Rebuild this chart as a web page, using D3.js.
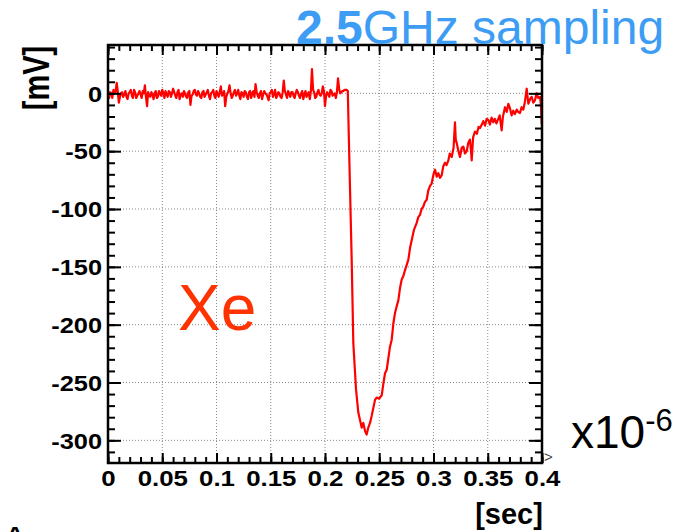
<!DOCTYPE html>
<html>
<head>
<meta charset="utf-8">
<script src="https://cdn.jsdelivr.net/npm/d3@7"></script>
<style>
  body { margin: 0; background: #fff; }
  svg { display: block; font-family: "Liberation Sans", Arial, sans-serif; }
</style>
</head>
<body>
<div id="chart"></div>
<script>
// waveform (time in us, amplitude in mV)
const sampleStep = 0.001;
const baselineMv = [
  -2, -4, 1, 0, -4, 3, 2, 1, 9, 2, -8, -3, 0, 1, -3, -1, 2, -3, -5, 0,
  1, 3, -2, -4, 3, 1, -4, -2, 0, 2, -1, -4, 2, 0, 7, -3, -11, 1, -2, -3,
  1, -1, -5, 0, 2, -4, -3, 2, 0, -2, 3, 0, -4, 2, -1, -3, 2, 1, -3, 0,
  4, 1, -2, -4, 1, 3, -5, -1, 0, -3, 2, 0, -3, -4, 1, 2, -10, -2, -1, 2,
  3, -1, -2, 2, 0, -3, -4, 1, 2, -3, -1, 1, 3, -2, -5, 0, 1, 3, -2, -4,
  2, 0, -3, 1, 6, -2, -1, 2, -11, -3, 0, 2, 7, 0, -4, -2, 1, 3, -2, 0,
  3, -2, -5, 1, 0, -3, 2, 1, -3, -5, 1, 2, -4, 0, 2, -3, 8, 1, -2, -4,
  0, 2, -5, -1, 2, 0, -1, -3, -6, 0, 1, 3, -3, -1, 3, -4, -2, 1, 0, -3,
  -4, 1, 11, 2, -1, -4, 2, 0, -3, 1, 1, -2, -4, 0, 3, 1, -2, -4, 0, 2,
  -5, -1, 2, -3, -1, 1, -5, 2, 21, 3, 1, -4, -3, 1, 3, -1, -2, 0, 6, 2,
  -11, -2, 1, -1, -3, 3, 2, -2, -1, 0, -4, 1, 13, 4, 0, 1, 2, 2, 3, 3,
  3
];
const pulseTimes = [
  0.221, 0.2225, 0.2246, 0.2261, 0.2286, 0.2307, 0.2338, 0.2353, 0.2369, 0.2384,
  0.2399, 0.2415, 0.2430, 0.2461, 0.2476, 0.2500, 0.2523, 0.2535, 0.2553, 0.2569,
  0.2599, 0.2615, 0.2630, 0.2645, 0.2661, 0.2676, 0.2692, 0.2707, 0.2722, 0.2737,
  0.2768, 0.2785, 0.2799, 0.2820, 0.2845, 0.2860, 0.2876, 0.2890, 0.2906, 0.2920,
  0.2937, 0.2952, 0.2968, 0.2983, 0.3000, 0.3014, 0.3030, 0.3044, 0.3060, 0.3075,
  0.3090, 0.3106, 0.3120, 0.3137, 0.3150, 0.3168, 0.3185, 0.3198, 0.3205, 0.3214,
  0.3230, 0.3244, 0.3260, 0.3275, 0.3290, 0.3306, 0.3320, 0.3336, 0.3345, 0.3352,
  0.3365, 0.3382, 0.3400, 0.3415, 0.3429, 0.3445, 0.3459, 0.3475, 0.3490, 0.3505,
  0.3520, 0.3535, 0.3551, 0.3565, 0.3580, 0.3597, 0.3610, 0.3628, 0.3640, 0.3659,
  0.3675, 0.3690, 0.3705, 0.3720, 0.3735, 0.3750, 0.3767, 0.3780, 0.3797, 0.3812,
  0.3828, 0.3843, 0.3859, 0.3874, 0.3890, 0.3905, 0.3920, 0.3935, 0.3951, 0.3965,
  0.3982, 0.3990, 0.3997, 0.4000
];
const pulseMv = [
  2, -60, -144, -216, -256, -276, -289, -285, -292, -295,
  -289, -285, -279, -265, -263, -264, -261, -253, -242, -239,
  -219, -213, -199, -190, -184, -179, -168, -161, -158, -153,
  -144, -133, -127, -118, -112, -107, -105, -100, -98, -94,
  -92, -84, -80, -78, -70, -66, -72, -69, -73, -71,
  -63, -60, -62, -58, -52, -55, -47, -25, -40, -43,
  -50, -55, -47, -46, -52, -50, -43, -40, -49, -58,
  -38, -33, -35, -29, -30, -27, -24, -28, -22, -23,
  -27, -21, -25, -22, -26, -22, -19, -32, -20, -12,
  -16, -9, -13, -19, -15, -18, -14, -16, -17, -12,
  -14, -7, 4, -9, -5, -3, -8, -6, 0, -4,
  -3, -10, -26, -18
];
const xMajor = [0, 0.05, 0.1, 0.15, 0.2, 0.25, 0.3, 0.35, 0.4];
const xLabels = ["0", "0.05", "0.1", "0.15", "0.2", "0.25", "0.3", "0.35", "0.4"];
const yMajor = [0, -50, -100, -150, -200, -250, -300];
const yMinorStep = 10, xMinorStep = 0.01;

const W = 690, H = 532;
const frame = {left: 108, right: 542, top: 45, bottom: 463};

const svg = d3.select("#chart").append("svg")
  .attr("width", W).attr("height", H);

const x = d3.scaleLinear().domain([0, 0.4]).range([frame.left, frame.right]);
const y = d3.scaleLinear().domain([-319.6, 41.8]).range([frame.bottom, frame.top]);

const xMinor = d3.range(0, 0.4001, xMinorStep);
const yMinor = d3.range(-310, 41, yMinorStep);

// grid
const grid = svg.append("g")
  .attr("stroke", "#8a8a8a").attr("stroke-width", 1).attr("stroke-dasharray", "1,2");
grid.selectAll(".gx").data(xMajor.slice(1, -1)).enter().append("line")
  .attr("x1", d => x(d)).attr("x2", d => x(d))
  .attr("y1", frame.top).attr("y2", frame.bottom);
grid.selectAll(".gy").data(yMajor).enter().append("line")
  .attr("x1", frame.left).attr("x2", frame.right)
  .attr("y1", d => y(d)).attr("y2", d => y(d));

// signal
const data = baselineMv.map((v, i) => ({t: i * sampleStep, v: v}))
  .concat(pulseTimes.map((t, i) => ({t: t, v: pulseMv[i]})));

svg.append("clipPath").attr("id", "clip").append("rect")
  .attr("x", frame.left).attr("y", frame.top)
  .attr("width", frame.right - frame.left).attr("height", frame.bottom - frame.top);

const line = d3.line().x(d => x(d.t)).y(d => y(d.v));
svg.append("path").datum(data)
  .attr("clip-path", "url(#clip)")
  .attr("fill", "none").attr("stroke", "#ff0000").attr("stroke-width", 2.2)
  .attr("stroke-linejoin", "round")
  .attr("d", line);

// axes (ticks point inward like ROOT)
function drawAxis(axis, tx, ty) {
  const g = svg.append("g").attr("transform", `translate(${tx},${ty})`).call(axis);
  g.select(".domain").remove();
  g.selectAll("line").attr("stroke", "#000").attr("stroke-width", 2);
  return g;
}
drawAxis(d3.axisBottom(x).tickValues(xMinor).tickSize(-6).tickFormat(""), 0, frame.bottom);
drawAxis(d3.axisTop(x).tickValues(xMinor).tickSize(-6).tickFormat(""), 0, frame.top);
drawAxis(d3.axisTop(x).tickValues(xMajor).tickSize(-10).tickFormat(""), 0, frame.top);
drawAxis(d3.axisLeft(y).tickValues(yMinor).tickSize(-7).tickFormat(""), frame.left, 0);
drawAxis(d3.axisRight(y).tickValues(yMinor).tickSize(-7).tickFormat(""), frame.right, 0);
drawAxis(d3.axisRight(y).tickValues(yMajor).tickSize(-13).tickFormat(""), frame.right, 0);

const xAxis = drawAxis(d3.axisBottom(x).tickValues(xMajor).tickSize(-10)
  .tickFormat((d, i) => xLabels[i]), 0, frame.bottom);
const yAxis = drawAxis(d3.axisLeft(y).tickValues(yMajor).tickSize(-13)
  .tickFormat(d => String(d)), frame.left, 0);

function stretch(sel, k) {
  sel.each(function() {
    const w = this.getComputedTextLength();
    d3.select(this).attr("textLength", w * k).attr("lengthAdjust", "spacingAndGlyphs");
  });
}
xAxis.selectAll("text")
  .attr("y", 22.5).attr("dy", 0)
  .attr("font-size", 21.5).attr("font-weight", "bold").attr("fill", "#000")
  .call(stretch, 1.2);
yAxis.selectAll("text")
  .attr("x", -6).attr("dy", "0.36em")
  .attr("font-size", 21.5).attr("font-weight", "bold").attr("fill", "#000")
  .call(stretch, 1.18);

// frame
svg.append("rect")
  .attr("x", frame.left).attr("y", frame.top)
  .attr("width", frame.right - frame.left).attr("height", frame.bottom - frame.top)
  .attr("fill", "none").attr("stroke", "#000").attr("stroke-width", 2.5);

// titles
svg.append("text")
  .attr("transform", "translate(49,78) scale(1.25,1) rotate(-90)")
  .attr("text-anchor", "middle").attr("font-size", 29).attr("font-weight", "bold")
  .text("[mV]");
svg.append("text")
  .attr("x", 509).attr("y", 524)
  .attr("text-anchor", "middle").attr("font-size", 29).attr("font-weight", "bold")
  .text("[sec]");

const head = svg.append("text")
  .attr("x", 296).attr("y", 44).attr("font-size", 48).attr("fill", "#3d9df5");
head.append("tspan").attr("font-weight", "bold").text("2.5");
head.append("tspan").text("GHz sampling");

svg.append("text")
  .attr("x", 178).attr("y", 330).attr("font-size", 64).attr("fill", "#ff3300")
  .text("Xe");

const mult = svg.append("text").attr("x", 571).attr("y", 448).attr("font-size", 46);
mult.append("tspan").text("x10");
mult.append("tspan").attr("dy", -17).attr("font-size", 31).text("-6");

svg.append("text")
  .attr("x", 544).attr("y", 462).attr("font-size", 15).attr("fill", "#444")
  .text(">");
svg.append("text")
  .attr("x", 15).attr("y", 546).attr("text-anchor", "middle")
  .attr("font-size", 28).attr("font-weight", "bold")
  .text("^");
</script>
</body>
</html>
